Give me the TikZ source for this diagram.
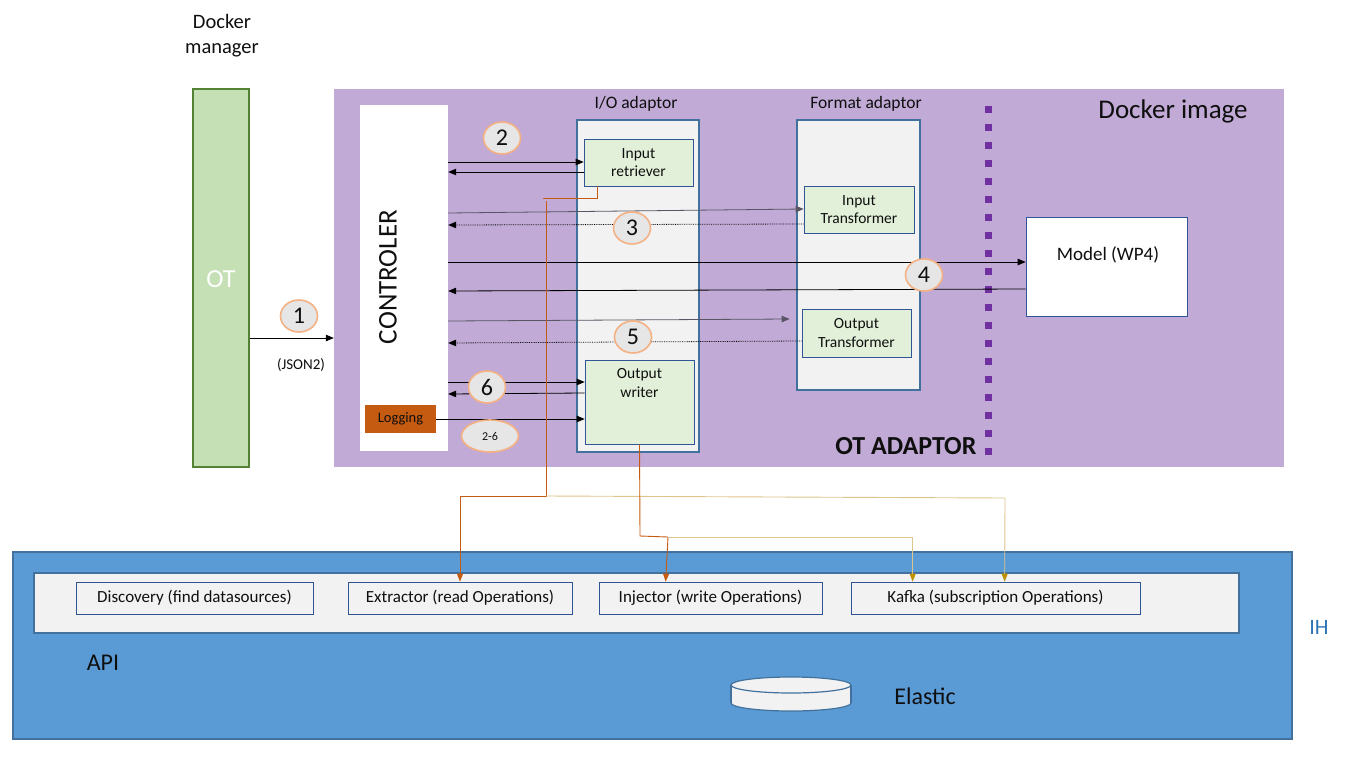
\documentclass[tikz,border=0pt]{standalone}
\usepackage{fontspec}
\setmainfont{Carlito}
\usetikzlibrary{arrows.meta,shapes.geometric,calc}
\definecolor{purplebg}{RGB}{193,170,214}
\definecolor{otfill}{RGB}{197,224,180}
\definecolor{otborder}{RGB}{84,130,53}
\definecolor{lgray}{RGB}{242,242,242}
\definecolor{lgreen}{RGB}{226,240,217}
\definecolor{bborder}{RGB}{65,113,156}
\definecolor{dblue}{RGB}{47,85,151}
\definecolor{ihblue}{RGB}{91,155,213}
\definecolor{orng}{RGB}{197,90,17}
\definecolor{tan}{RGB}{222,196,140}
\definecolor{gold}{RGB}{191,144,0}
\definecolor{numfill}{RGB}{231,230,230}
\definecolor{numborder}{RGB}{244,177,131}
\definecolor{ihtext}{RGB}{46,117,182}
\definecolor{dotpurple}{RGB}{112,48,160}
\definecolor{txt}{RGB}{15,15,15}
\definecolor{grayline}{RGB}{90,85,100}
\newcommand{\fs}[1]{\fontsize{#1}{#1}\selectfont}
\newcommand{\fsl}[2]{\fontsize{#1}{#2}\selectfont}
\begin{document}
\begin{tikzpicture}[x=1pt,y=-1pt,
  every node/.style={text=txt},
  box/.style={rectangle, inner sep=0pt, align=center},
  adaptor/.style={box, draw=bborder, line width=1.6pt, fill=lgray},
  inner/.style={box, draw=dblue, line width=0.7pt, fill=lgreen, font=\fsl{15.5}{18.5}},
  apibox/.style={box, draw=dblue, line width=0.7pt, fill=lgray, minimum height=32pt, font=\fs{17}},
  arr/.style={-{Triangle[length=8pt,width=6.5pt]}, line width=0.8pt, black},
  grayarr/.style={arr, grayline},
  dotarr/.style={arr, densely dotted},
  num/.style={ellipse, draw=numborder, line width=1.6pt, fill=numfill, minimum width=37pt, minimum height=32pt, inner sep=0pt, font=\fs{24}},
  oline/.style={orng, line width=0.9pt},
  tline/.style={tan, line width=0.9pt},
  oarr/.style={oline, -{Triangle[length=8pt,width=6pt]}},
  tarr/.style={tline, -{Triangle[length=8pt,width=6pt,fill=gold,color=gold]}}
]
\useasboundingbox (0,0) rectangle (1351,757);

% Docker manager
\node[align=center, font=\fsl{20.5}{25}, inner sep=0pt] (dmlabel) at (222,36) {Docker\\manager};
\node[box, draw=otborder, line width=1.6pt, fill=otfill, minimum width=56pt, minimum height=378pt] (ot) at (221,278) {};
\node[text=white, font=\fs{26}] (otlabel) at (221,279) {OT};

% Docker image
\node[box, fill=purplebg, minimum width=950pt, minimum height=378pt] (docker) at (809,278) {};
\node[font=\fs{27}] (dockerlabel) at (1173,111) {Docker image};

% Controller
\node[box, fill=white, minimum width=88pt, minimum height=346pt] (ctrl) at (404,278) {};
\node[rotate=90, font=\fs{27}] (ctrllabel) at (388,277) {CONTROLER};
\node[box, fill=orng, minimum width=71pt, minimum height=28pt, font=\fs{14.5}] (log) at (400.5,419) {Logging};

% I/O adaptor
\node[font=\fs{17.5}] (iolabel) at (636,104) {I/O adaptor};
\node[adaptor, minimum width=122pt, minimum height=332pt] (io) at (638,286) {};
\node[inner, minimum width=109pt, minimum height=47pt] (inret) at (638.5,162.5) {Input\\retriever};
\node[inner, minimum width=109pt, minimum height=84pt] (outwr) at (639.5,402) {};
\node[align=center, font=\fsl{15.5}{18.5}] (outwrlabel) at (639.5,383) {Output\\writer};

% Format adaptor
\node[font=\fs{17.5}] (fmtlabel) at (866,104) {Format adaptor};
\node[adaptor, minimum width=123pt, minimum height=270pt] (fmt) at (858.5,255) {};
\node[inner, minimum width=110pt, minimum height=47pt] (inT) at (859,209.5) {Input\\Transformer};
\node[inner, minimum width=109pt, minimum height=48pt] (outT) at (856.5,333) {Output\\Transformer};

% Model
\node[box, draw=dblue, line width=0.7pt, fill=white, minimum width=161pt, minimum height=99pt] (model) at (1106.5,266.5) {};
\node[font=\fs{19}] (modellabel) at (1108,255) {Model (WP4)};

% dotted separator
\coordinate (sepTop) at (988,106);
\coordinate (sepBot) at (988,455);
\draw[dotpurple, line width=7pt, dash pattern=on 7pt off 11pt] (sepTop) -- (sepBot);
\node[font=\bfseries\fs{26}, anchor=east] (otad) at (980,446) {OT ADAPTOR};

% Arrow 1
\draw[arr] (ot.east |- 0,338) -- (docker.west |- 0,338);
\node[font=\fs{15}] (json) at (301,365) {(JSON2)};

% Arrows 2
\draw[arr] (ctrl.east |- 0,162) -- (inret.west |- 0,162);
\draw[arr] (inret.west |- 0,172) -- (ctrl.east |- 0,172);
% Arrows 3
\draw[grayarr] (ctrl.east |- 0,213) -- (inT.west |- 0,209);
\draw[dotarr] (inT.west |- 0,224) -- (ctrl.east |- 0,225);
% Arrows 4
\draw[arr] (ctrl.east |- 0,262) -- (model.west |- 0,262);
\draw[arr] (model.west |- 0,289) -- (ctrl.east |- 0,291);
% Arrows 5
\draw[grayarr] (ctrl.east |- 0,321) -- ([xshift=-12pt]outT.west |- 0,319);
\draw[dotarr] (outT.west |- 0,341) -- (ctrl.east |- 0,343);
% Arrows 6
\draw[arr] (ctrl.east |- 0,382) -- (outwr.west |- 0,382);
\draw[arr] (outwr.west |- 0,393) -- (ctrl.east |- 0,394);
% Logging
\draw[arr] (log.east) -- (outwr.west |- log.east);

% IH
\node[box, draw=bborder, line width=1.6pt, fill=ihblue, minimum width=1279pt, minimum height=187pt] (ih) at (652.5,645.5) {};
\node[box, draw=bborder, line width=1.2pt, fill=lgray, minimum width=1205pt, minimum height=60pt] (api) at (636.5,603) {};
\node[apibox, minimum width=237pt] (disc) at (194.5,598) {Discovery (find datasources)};
\node[apibox, minimum width=224pt] (extr) at (460,598) {Extractor (read Operations)};
\node[apibox, minimum width=223pt] (inj) at (710.5,598) {Injector (write Operations)};
\node[apibox, minimum width=289pt] (kafka) at (995.5,598) {Kafka (subscription Operations)};
\node[font=\fs{24}] (apilabel) at (103,663) {API};
\node[text=ihtext, font=\fs{22}] (ihlabel) at (1319,627) {IH};

% Elastic cylinder
\coordinate (cylTop) at (791,685);
\coordinate (cylBot) at (791,703);
\filldraw[draw=bborder, fill=lgray, line width=1.2pt] (cylBot) ellipse [x radius=60, y radius=8];
\fill[lgray] (731,685) rectangle (851,703);
\draw[bborder, line width=1.2pt] (731,685) -- (731,703) (851,685) -- (851,703);
\filldraw[draw=bborder, fill=lgray, line width=1.2pt] (cylTop) ellipse [x radius=60, y radius=8];
\node[font=\fs{24}] (elastic) at (925,696) {Elastic};

% Orange / tan connectors
\coordinate (j1) at (546,496);
\coordinate (j2) at (668,537);
\draw[oline] ($(inret.south west)+(14,0)$) |- (543,198);
\draw[oarr] (546,201) -- (j1) -| (extr.north);
\draw[tarr] (j1) -- (1005,498) -- ($(kafka.north west)+(154,0)$);
\draw[oline] (outwr.south) -- (640,536) -- (j2);
\draw[oarr] (j2) -- ($(inj.north west)+(67,0)$);
\draw[tarr] (j2) -| ($(kafka.north west)+(62,0)$);

% numbered circles
\node[num] (n1) at (299,316) {1};
\node[num] (n2) at (502,138) {2};
\node[num] (n3) at (632,228) {3};
\node[num] (n4) at (924,275) {4};
\node[num] (n5) at (633,337) {5};
\node[num] (n6) at (487,387) {6};
\node[num, minimum width=57pt, minimum height=32pt, font=\fs{12}] (n26) at (490,436) {2-6};
\end{tikzpicture}
\end{document}
